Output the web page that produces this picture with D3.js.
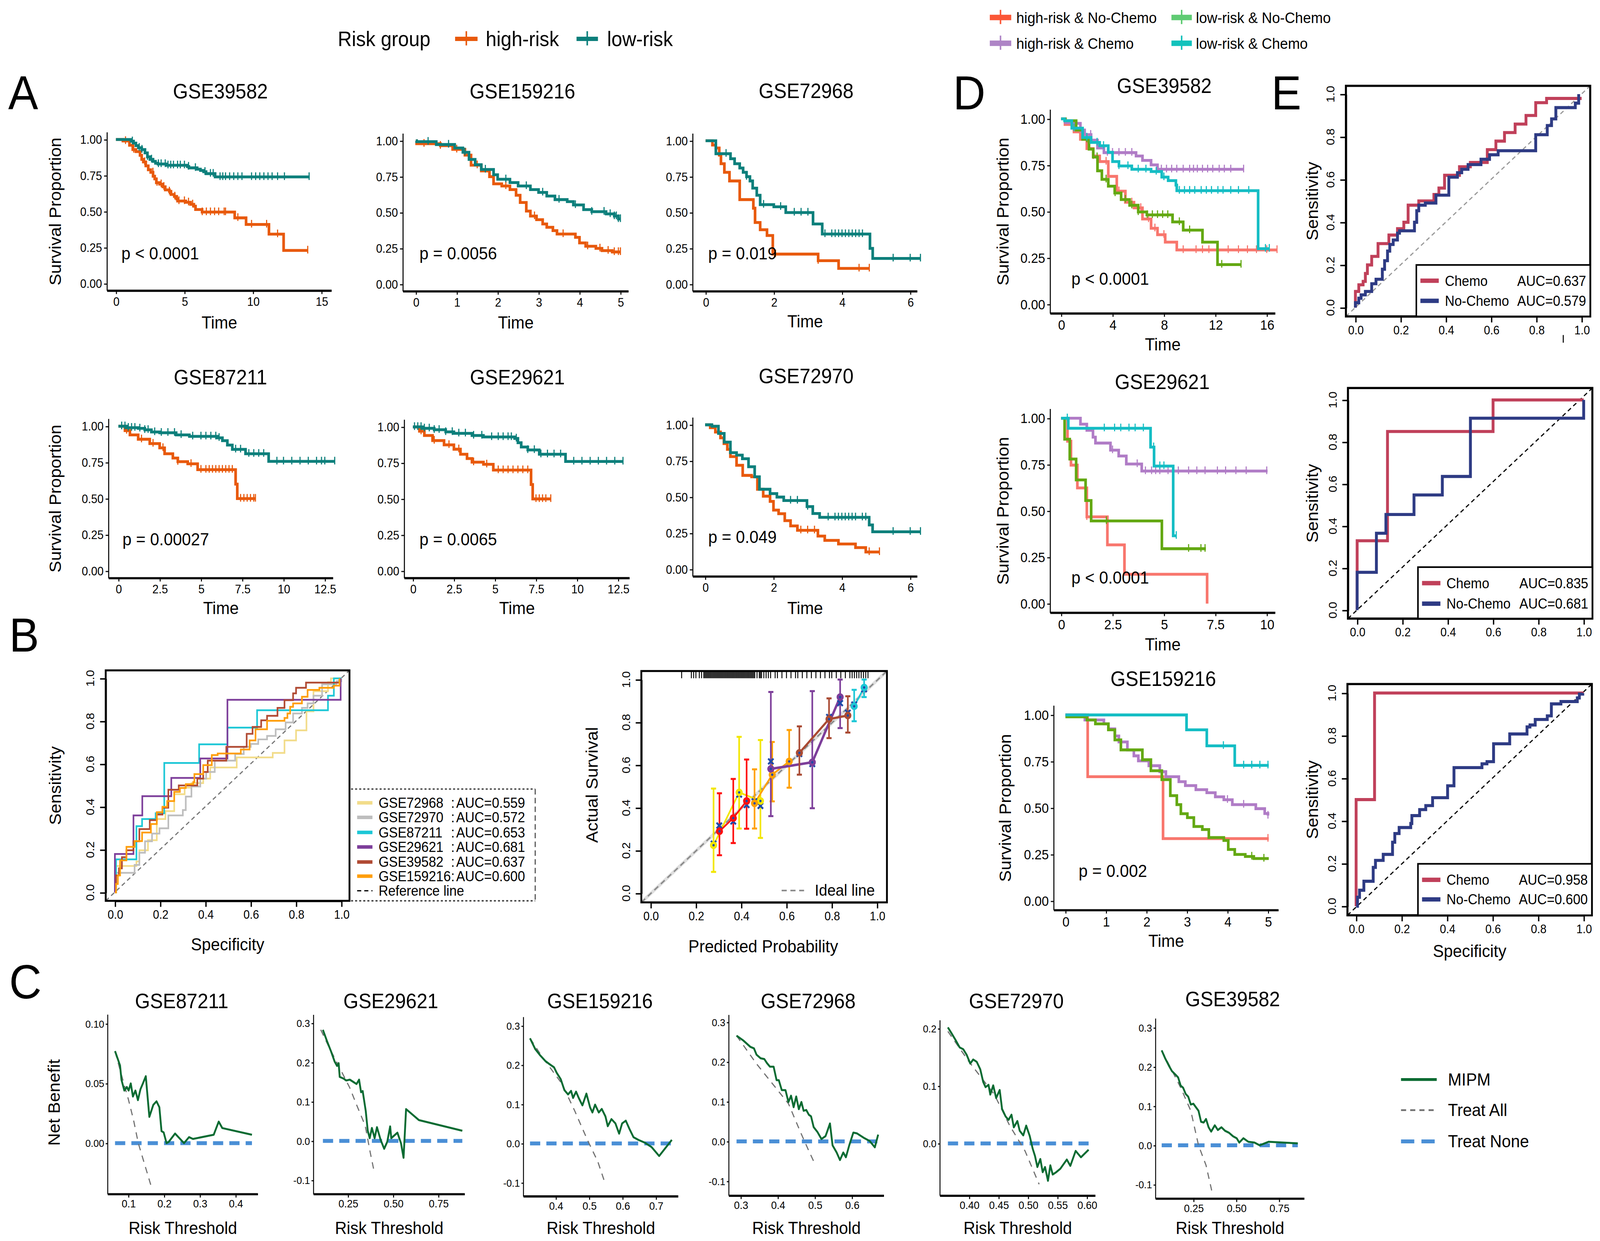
<!DOCTYPE html>
<html>
<head>
<meta charset="utf-8">
<title>Risk model validation</title>
<script src="https://cdn.jsdelivr.net/npm/d3@7/dist/d3.min.js"></script>
<style>
html, body { margin: 0; padding: 0; background: #ffffff; overflow: hidden; width: 100%; height: 100%; }
svg { display: block; width: 100vw; height: 100vh; }
text { font-family: "Liberation Sans", Arial, Helvetica, sans-serif; fill: #000; }
</style>
</head>
<body>
<script>

// ---------------- data: panel A (KM, [time, survival]) ----------------
var kmTicksY = [0, 0.25, 0.5, 0.75, 1];

var a1High = [[0,1],[0.51,0.99],[0.99,0.96],[1.23,0.93],[1.46,0.916],[1.76,0.89],[1.88,0.862],[2.0,0.844],[2.18,0.817],[2.36,0.79],[2.54,0.772],[2.71,0.745],[2.83,0.727],[2.95,0.70],[3.19,0.69],[3.43,0.672],[3.6,0.65],[3.9,0.64],[4.02,0.618],[4.26,0.605],[4.44,0.587],[4.5,0.573],[5.1,0.564],[5.45,0.55],[5.69,0.537],[5.81,0.514],[6.29,0.496],[8.67,0.456],[9.5,0.41],[11.17,0.343],[12.24,0.23],[14.0,0.23]];
var a1HighCens = [0.7,1.3,2.1,2.7,3.0,3.3,3.5,3.9,4.3,4.6,5.0,5.3,5.6,6.3,6.6,6.9,7.2,7.5,7.9,8.0,8.9,9.9,11.0,11.8,14.0];
var a1Low = [[0,1],[1.1,0.988],[1.29,0.975],[1.46,0.957],[1.64,0.943],[1.88,0.93],[2.12,0.907],[2.3,0.88],[2.48,0.862],[2.71,0.848],[2.89,0.835],[3.07,0.83],[3.67,0.821],[5.21,0.812],[5.33,0.803],[5.93,0.794],[6.17,0.785],[6.4,0.776],[6.58,0.763],[7.24,0.74],[14.14,0.74]];
var a1LowCens = [1.2,1.7,1.9,2.3,2.6,3.1,3.3,3.6,3.8,4.0,4.2,4.5,4.7,5.0,5.3,5.8,6.5,6.9,7.1,7.6,7.8,8.0,8.3,8.6,8.9,9.2,9.9,10.2,10.5,10.8,11.1,11.4,11.8,12.3,14.1];

var a2High = [[0,1],[0.02,0.98],[0.6,0.966],[0.9,0.94],[1.2,0.90],[1.35,0.83],[1.6,0.79],[1.8,0.75],[1.9,0.70],[2.1,0.685],[2.3,0.66],[2.45,0.62],[2.55,0.57],[2.7,0.51],[2.8,0.475],[2.95,0.45],[3.1,0.42],[3.2,0.397],[3.35,0.374],[3.45,0.35],[3.9,0.327],[4.0,0.288],[4.15,0.265],[4.4,0.25],[4.55,0.234],[4.8,0.225],[5.0,0.225]];
var a2HighCens = [0.2,0.6,1.0,1.5,2.2,2.9,3.6,4.2,4.5,4.7,4.85,4.95,5.0];
var a2Low = [[0,1],[0.02,0.994],[0.5,0.974],[0.95,0.95],[1.15,0.92],[1.3,0.87],[1.45,0.833],[1.6,0.80],[1.9,0.763],[2.0,0.732],[2.3,0.709],[2.5,0.685],[2.8,0.66],[3.0,0.64],[3.2,0.615],[3.4,0.59],[3.7,0.576],[3.85,0.553],[4.1,0.52],[4.3,0.506],[4.65,0.49],[4.85,0.475],[4.95,0.455],[5.0,0.455]];
var a2LowCens = [0.3,0.8,1.2,1.7,2.2,2.7,3.1,3.5,3.9,4.3,4.6,4.75,4.85,4.9,4.95,5.0];

var a3High = [[0,1],[0.2,0.97],[0.3,0.95],[0.4,0.90],[0.45,0.84],[0.55,0.78],[0.7,0.72],[1.0,0.59],[1.4,0.53],[1.45,0.43],[1.6,0.38],[1.8,0.34],[1.97,0.21],[3.3,0.164],[3.9,0.11],[4.8,0.11]];
var a3HighCens = [2.05,3.3,4.5,4.8];
var a3Low = [[0,1],[0.3,0.91],[0.73,0.875],[0.85,0.84],[1.0,0.81],[1.1,0.78],[1.2,0.75],[1.3,0.72],[1.38,0.67],[1.5,0.62],[1.6,0.555],[2.0,0.54],[2.35,0.50],[3.15,0.42],[3.42,0.35],[4.82,0.25],[4.9,0.18],[6.3,0.18]];
var a3LowCens = [0.6,1.2,1.7,2.2,2.6,2.8,3.0,3.5,3.7,3.8,3.9,4.0,4.1,4.2,4.3,4.4,4.5,4.6,5.5,6.0,6.3];

var a4High = [[0,1],[0.4,0.97],[0.7,0.94],[1.2,0.91],[1.9,0.88],[2.5,0.85],[2.8,0.81],[3.3,0.78],[3.6,0.755],[4.2,0.74],[4.8,0.70],[7.1,0.60],[7.2,0.50],[8.3,0.50]];
var a4HighCens = [0.5,1.4,2.1,2.7,3.6,4.4,5.0,5.3,5.5,5.7,5.9,6.1,6.3,6.5,6.7,6.9,7.4,7.6,7.8,8.0,8.2,8.3];
var a4Low = [[0,1],[0.5,0.99],[1.2,0.985],[1.6,0.975],[2.0,0.96],[2.5,0.955],[3.5,0.94],[4.3,0.93],[6.0,0.92],[6.3,0.90],[6.6,0.87],[6.9,0.84],[7.7,0.81],[9.1,0.757],[13.1,0.757]];
var a4LowCens = [0.2,0.4,0.6,0.8,1.0,1.3,1.6,1.8,2.2,2.6,3.0,3.4,3.8,4.5,5.0,5.3,5.6,5.9,6.1,7.1,7.4,7.9,8.2,8.5,8.8,9.6,10,10.5,11,11.5,12,12.3,12.5,13.1];

var a5High = [[0,1],[0.4,0.97],[0.7,0.94],[1.2,0.905],[1.9,0.875],[2.5,0.845],[2.9,0.81],[3.3,0.78],[3.6,0.755],[4.3,0.74],[4.9,0.70],[7.2,0.60],[7.3,0.50],[8.4,0.50]];
var a5HighCens = [0.5,1.3,2.2,2.8,3.7,4.5,5.2,5.5,5.8,6.1,6.4,6.7,7.0,7.5,7.7,7.9,8.1,8.4];
var a5Low = [[0,1],[0.6,0.99],[1.3,0.98],[2.0,0.965],[2.5,0.955],[3.6,0.94],[4.3,0.93],[6.2,0.92],[6.4,0.89],[6.6,0.86],[7.0,0.84],[7.7,0.81],[9.3,0.76],[12.8,0.76]];
var a5LowCens = [0.1,0.3,0.5,0.7,1.0,1.3,1.6,2.0,2.4,2.8,3.2,3.7,4.2,4.8,5.2,5.5,5.8,6.0,6.3,7.0,7.4,7.8,8.2,8.6,9.0,9.8,10.3,10.8,11.3,11.8,12.3,12.8];

var a6High = [[0,1],[0.15,0.98],[0.3,0.95],[0.45,0.91],[0.55,0.87],[0.65,0.83],[0.74,0.78],[0.92,0.72],[1.1,0.65],[1.36,0.64],[1.53,0.554],[1.7,0.506],[1.9,0.47],[2.0,0.41],[2.15,0.385],[2.33,0.337],[2.5,0.30],[2.7,0.27],[3.3,0.23],[3.5,0.20],[3.9,0.175],[4.4,0.15],[4.7,0.12],[5.1,0.12]];
var a6HighCens = [2.8,3.0,3.2,4.8,5.1];
var a6Low = [[0,1],[0.2,0.99],[0.39,0.94],[0.56,0.88],[0.74,0.807],[0.92,0.79],[1.09,0.765],[1.27,0.71],[1.45,0.64],[1.59,0.554],[1.9,0.524],[2.1,0.50],[2.3,0.476],[2.98,0.434],[3.15,0.386],[3.35,0.36],[4.8,0.307],[4.9,0.26],[6.3,0.26]];
var a6LowCens = [2.5,2.7,3.0,3.6,3.8,3.9,4.0,4.1,4.2,4.3,4.4,4.6,4.7,5.5,6.0,6.3];

// ---------------- data: panel D (KM by risk x chemo) ----------------
var d1HighNo = [[0,1],[0.3,0.97],[1.0,0.93],[1.5,0.89],[2.0,0.84],[2.5,0.80],[3.0,0.77],[3.67,0.69],[4.33,0.61],[5.0,0.55],[5.67,0.52],[6.33,0.46],[7.0,0.41],[7.5,0.375],[8.1,0.335],[9.0,0.293],[16.8,0.293]];
var d1HighNoCens = [2.5,3.5,4.5,5.5,6.2,6.8,7.3,8.0,9.5,10.5,11.0,11.5,12.2,13.0,13.8,14.5,15.2,16.0,16.8];
var d1HighChemo = [[0,1],[0.33,0.98],[1.17,0.976],[1.5,0.94],[1.83,0.915],[2.33,0.885],[2.83,0.843],[3.33,0.818],[5.83,0.80],[6.33,0.776],[7.0,0.752],[7.5,0.728],[14.2,0.728]];
var d1HighChemoCens = [1.5,2.3,3.6,4.0,4.5,5.0,5.5,7.8,8.2,8.6,9.0,9.5,10.0,10.3,10.6,11.0,11.4,11.8,12.3,12.7,13.2,14.2];
var d1LowNo = [[0,1],[0.33,0.99],[1.17,0.94],[1.67,0.89],[2.17,0.837],[2.5,0.794],[2.83,0.72],[3.17,0.674],[3.67,0.637],[4.17,0.60],[4.67,0.565],[5.33,0.534],[6.0,0.498],[6.67,0.482],[8.67,0.444],[9.5,0.40],[11.0,0.335],[12.17,0.214],[14.0,0.214]];
var d1LowNoCens = [2.0,2.8,3.5,4.2,5.0,5.5,6.0,6.7,7.1,7.5,7.9,8.3,9.2,10.0,12.5,14.0];
var d1LowChemo = [[0,1],[0.27,0.99],[0.83,0.95],[1.67,0.90],[2.33,0.873],[3.0,0.855],[3.67,0.82],[4.0,0.77],[4.5,0.746],[5.5,0.728],[7.0,0.716],[7.83,0.686],[8.33,0.667],[8.93,0.643],[9.0,0.613],[15.33,0.30],[16.2,0.30]];
var d1LowChemoCens = [1.0,2.0,2.8,3.3,4.5,5.2,6.0,6.6,7.4,8.0,9.2,9.6,10.0,10.4,10.9,11.3,11.7,12.2,12.6,13.2,13.8,14.6,15.9,16.2];

var d2HighNo = [[0,1],[0.31,0.876],[0.48,0.747],[0.79,0.624],[1.25,0.468],[2.25,0.317],[3.08,0.158],[7.1,0]];
var d2HighNoCens = [1.25];
var d2HighChemo = [[0,1],[0.94,0.968],[1.25,0.935],[1.55,0.898],[1.67,0.866],[2.4,0.828],[2.8,0.796],[3.17,0.753],[3.92,0.715],[10.04,0.715]];
var d2HighChemoCens = [2.5,3.7,4.1,4.4,4.6,4.8,5.2,5.7,6.2,6.6,7.0,7.6,8.0,8.5,9.0,10.0];
var d2LowNo = [[0,1],[0.17,0.887],[0.42,0.78],[0.73,0.667],[1.19,0.556],[1.46,0.446],[4.9,0.296],[7.04,0.296]];
var d2LowNoCens = [2.2,6.2,6.8,7.0];
var d2LowChemo = [[0,1],[0.35,0.946],[4.35,0.844],[4.52,0.742],[5.45,0.366],[5.6,0.366]];
var d2LowChemoCens = [0.3,2.1,2.6,2.9,3.3,3.6,4.0,4.5,4.8,5.0,5.6];

var d3HighNo = [[0,1],[0.55,0.668],[2.41,0.335],[5.02,0.335]];
var d3HighNoCens = [5.0];
var d3HighChemo = [[0,1],[0.48,0.973],[0.95,0.952],[1.06,0.925],[1.22,0.887],[1.32,0.855],[1.53,0.812],[1.69,0.78],[1.8,0.753],[2.06,0.727],[2.33,0.695],[2.48,0.668],[2.8,0.641],[2.96,0.62],[3.22,0.598],[3.49,0.582],[3.7,0.56],[3.91,0.544],[4.12,0.518],[4.7,0.496],[4.92,0.47],[5.0,0.459]];
var d3HighChemoCens = [4.0,4.4,5.0];
var d3LowNo = [[0,0.99],[0.53,0.973],[0.74,0.952],[1.06,0.92],[1.22,0.866],[1.37,0.812],[1.9,0.759],[2.11,0.70],[2.38,0.652],[2.59,0.566],[2.75,0.518],[2.85,0.469],[3.01,0.448],[3.17,0.40],[3.38,0.384],[3.54,0.341],[3.91,0.325],[4.02,0.277],[4.18,0.25],[4.44,0.239],[4.65,0.228],[5.02,0.228]];
var d3LowNoCens = [4.6,4.9];
var d3LowChemo = [[0,1],[2.99,0.92],[3.49,0.834],[4.18,0.729],[5.02,0.729]];
var d3LowChemoCens = [3.9,4.4,4.6,4.8,5.0];

// ---------------- data: panel B (ROC [1-spec, sens]) ----------------
var rocTicks = [0, 0.2, 0.4, 0.6, 0.8, 1];
var b1Names = ["GSE72968", "GSE72970", "GSE87211", "GSE29621", "GSE39582", "GSE159216"];
var b1Auc = ["AUC=0.559", "AUC=0.572", "AUC=0.653", "AUC=0.681", "AUC=0.637", "AUC=0.600"];
var b1Yellow = [[0,0],[0.005,0.124],[0.095,0.145],[0.108,0.197],[0.146,0.244],[0.185,0.343],[0.223,0.38],[0.262,0.459],[0.308,0.49],[0.338,0.511],[0.39,0.532],[0.421,0.584],[0.538,0.631],[0.697,0.652],[0.749,0.71],[0.80,0.757],[0.846,0.846],[0.877,0.94],[0.941,0.982],[0.954,1.0],[1,1]];
var b1Gray = [[0,0],[0.005,0.092],[0.087,0.129],[0.108,0.186],[0.133,0.239],[0.164,0.275],[0.197,0.30],[0.236,0.36],[0.30,0.385],[0.313,0.448],[0.338,0.495],[0.377,0.532],[0.403,0.563],[0.441,0.616],[0.531,0.647],[0.569,0.68],[0.60,0.694],[0.633,0.715],[0.672,0.731],[0.71,0.762],[0.754,0.794],[0.787,0.836],[0.826,0.862],[0.851,0.883],[0.877,0.919],[0.915,0.972],[0.979,0.987],[1.0,1.0]];
var b1Cyan = [[0,0],[0.005,0.155],[0.095,0.31],[0.12,0.343],[0.18,0.37],[0.218,0.605],[0.372,0.692],[0.497,0.77],[0.628,0.851],[0.941,0.919],[0.967,1.0],[1,1]];
var b1Purple = [[0,0],[0,0.18],[0.082,0.36],[0.121,0.45],[0.249,0.535],[0.377,0.626],[0.497,0.90],[0.997,1.0]];
var b1Brown = [[0,0],[0.005,0.08],[0.018,0.113],[0.031,0.165],[0.051,0.197],[0.082,0.239],[0.108,0.296],[0.154,0.338],[0.185,0.364],[0.21,0.396],[0.236,0.48],[0.282,0.50],[0.364,0.532],[0.39,0.563],[0.41,0.616],[0.492,0.68],[0.582,0.741],[0.608,0.773],[0.646,0.804],[0.672,0.825],[0.718,0.862],[0.749,0.898],[0.787,0.93],[0.80,0.956],[0.844,0.98],[0.992,1.0]];
var b1Orange = [[0,0],[0.005,0.04],[0.013,0.08],[0.023,0.15],[0.051,0.213],[0.087,0.24],[0.12,0.28],[0.159,0.32],[0.185,0.375],[0.21,0.40],[0.231,0.427],[0.262,0.47],[0.287,0.488],[0.313,0.506],[0.346,0.516],[0.351,0.553],[0.39,0.595],[0.428,0.642],[0.454,0.649],[0.556,0.668],[0.595,0.71],[0.621,0.762],[0.672,0.802],[0.749,0.815],[0.762,0.836],[0.774,0.867],[0.787,0.883],[0.826,0.914],[0.851,0.946],[0.903,0.956],[0.967,0.966],[0.992,1.0]];

// calibration: [predicted, observed, lower, upper]
var calYellow = [[0.278,0.225,0.10,0.49],[0.391,0.472,0.303,0.732],[0.485,0.432,0.259,0.717]];
var calRed = [[0.304,0.29,0.178,0.468],[0.365,0.352,0.235,0.535],[0.424,0.432,0.302,0.626]];
var calOrange = [[0.459,0.421,0.303,0.58],[0.537,0.555,0.43,0.708],[0.612,0.617,0.494,0.764]];
var calPurple = [[0.531,0.582,0.361,0.942],[0.714,0.613,0.398,0.946],[0.837,0.918,0.773,1.0]];
var calBrown = [[0.657,0.657,0.555,0.781],[0.788,0.815,0.726,0.912],[0.871,0.832,0.752,0.922]];
var calCyan = [[0.899,0.875,0.805,0.952],[0.943,0.963,0.918,1.0]];
var calKM = [[0.303,0.317],[0.365,0.336],[0.424,0.413],[0.485,0.409],[0.531,0.617],[0.714,0.605],[0.837,0.89],[0.278,0.232],[0.391,0.462],[0.459,0.43],[0.657,0.652],[0.788,0.825],[0.871,0.845],[0.899,0.883],[0.943,0.955]];
var calRug = [0.137,0.18,0.19,0.20,0.215,0.225,0.235,0.24,0.245,0.25,0.255,0.26,0.265,0.27,0.275,0.28,0.285,0.29,0.295,0.30,0.305,0.31,0.315,0.32,0.325,0.33,0.335,0.34,0.345,0.35,0.355,0.36,0.365,0.37,0.375,0.38,0.385,0.39,0.395,0.40,0.405,0.41,0.415,0.42,0.425,0.43,0.435,0.44,0.445,0.45,0.455,0.46,0.47,0.48,0.485,0.49,0.50,0.51,0.52,0.53,0.55,0.56,0.58,0.60,0.62,0.64,0.65,0.67,0.69,0.71,0.73,0.75,0.77,0.79,0.80,0.82,0.84,0.86,0.88,0.89,0.90,0.91,0.92,0.93,0.94,0.95,0.96];

// ---------------- data: panel E (ROC chemo vs no-chemo) ----------------
var e1Chemo = [[0,0],[0,0.076],[0.015,0.107],[0.034,0.123],[0.044,0.16],[0.053,0.20],[0.072,0.24],[0.10,0.30],[0.148,0.34],[0.186,0.37],[0.214,0.40],[0.233,0.48],[0.28,0.50],[0.347,0.53],[0.369,0.56],[0.394,0.62],[0.46,0.66],[0.508,0.68],[0.583,0.74],[0.621,0.78],[0.659,0.82],[0.706,0.86],[0.754,0.90],[0.797,0.96],[0.845,0.98],[1.0,0.98]];
var e1NoChemo = [[0,0],[0,0.023],[0.015,0.044],[0.025,0.06],[0.044,0.076],[0.072,0.112],[0.091,0.133],[0.119,0.18],[0.129,0.22],[0.142,0.265],[0.152,0.296],[0.167,0.317],[0.186,0.349],[0.195,0.36],[0.261,0.40],[0.271,0.454],[0.28,0.48],[0.309,0.49],[0.356,0.527],[0.413,0.611],[0.451,0.632],[0.47,0.648],[0.498,0.67],[0.555,0.695],[0.593,0.716],[0.631,0.735],[0.797,0.81],[0.848,0.853],[0.867,0.884],[0.886,0.937],[0.972,0.958],[0.987,1.0]];
var e2Chemo = [[0,0],[0,0.33],[0.134,0.85],[0.60,1.0],[1.0,1.0]];
var e2NoChemo = [[0,0],[0,0.18],[0.085,0.366],[0.127,0.455],[0.251,0.548],[0.376,0.636],[0.50,0.913],[1.0,1.0]];
var e3Chemo = [[0,0],[0,0.5],[0.081,1.0],[1.0,1.0]];
var e3NoChemo = [[0,0],[0.006,0.042],[0.015,0.075],[0.034,0.117],[0.075,0.182],[0.085,0.215],[0.119,0.243],[0.16,0.30],[0.17,0.341],[0.189,0.369],[0.24,0.388],[0.245,0.425],[0.279,0.453],[0.306,0.472],[0.336,0.509],[0.402,0.565],[0.43,0.65],[0.553,0.668],[0.575,0.678],[0.604,0.762],[0.675,0.808],[0.751,0.841],[0.764,0.85],[0.787,0.876],[0.84,0.893],[0.858,0.949],[0.90,0.96],[0.972,0.977],[0.981,0.995],[0.996,1.0]];
var eAuc = [["AUC=0.637","AUC=0.579"],["AUC=0.835","AUC=0.681"],["AUC=0.958","AUC=0.600"]];

// ---------------- data: panel C (decision curves [threshold, net benefit]) ----------------
var c1Model = [[0.063,0.077],[0.077,0.065],[0.081,0.053],[0.089,0.044],[0.096,0.047],[0.101,0.044],[0.107,0.050],[0.113,0.039],[0.12,0.044],[0.127,0.036],[0.134,0.045],[0.141,0.050],[0.149,0.056],[0.159,0.022],[0.17,0.032],[0.179,0.035],[0.187,0.030],[0.193,0.010],[0.199,0.009],[0.207,0],[0.213,0.001],[0.231,0.008],[0.256,0],[0.27,0.005],[0.281,0.0035],[0.339,0.007],[0.353,0.018],[0.363,0.0126],[0.446,0.007]];
var c1All = [[0.063,0.077],[0.08,0.058],[0.10,0.037],[0.115,0.019],[0.128,0],[0.148,-0.02],[0.163,-0.035]];
var c1None = [[0.063,0],[0.446,0]];
var c2Model = [[0.112,0.283],[0.134,0.255],[0.157,0.228],[0.177,0.202],[0.19,0.191],[0.199,0.198],[0.205,0.163],[0.225,0.159],[0.241,0.154],[0.261,0.156],[0.281,0.15],[0.298,0.145],[0.312,0.156],[0.323,0.124],[0.332,0.127],[0.349,0.076],[0.36,0.026],[0.371,0.007],[0.383,0.033],[0.398,0.007],[0.411,0.035],[0.431,0.003],[0.451,-0.02],[0.468,-0.002],[0.484,0.037],[0.49,0.007],[0.524,0.021],[0.544,-0.006],[0.558,-0.043],[0.572,0.081],[0.643,0.053],[0.883,0.026]];
var c2All = [[0.10,0.283],[0.15,0.235],[0.2,0.19],[0.26,0.136],[0.30,0.09],[0.346,0.039],[0.374,-0.03],[0.394,-0.075]];
var c2None = [[0.112,0],[0.883,0]];
var c3Model = [[0.323,0.268],[0.339,0.24],[0.354,0.224],[0.369,0.21],[0.38,0.203],[0.395,0.194],[0.403,0.18],[0.415,0.164],[0.426,0.136],[0.437,0.125],[0.446,0.134],[0.452,0.116],[0.461,0.132],[0.469,0.116],[0.48,0.097],[0.492,0.127],[0.503,0.092],[0.51,0.079],[0.518,0.099],[0.529,0.079],[0.538,0.088],[0.549,0.069],[0.556,0.044],[0.567,0.062],[0.579,0.051],[0.59,0.025],[0.599,0.051],[0.61,0.058],[0.621,0.037],[0.633,0.016],[0.648,0.009],[0.667,0.002],[0.687,-0.009],[0.71,-0.032],[0.748,0.009]];
var c3All = [[0.323,0.268],[0.36,0.22],[0.418,0.153],[0.457,0.083],[0.495,0.009],[0.526,-0.046],[0.549,-0.104]];
var c3None = [[0.323,0],[0.748,0]];
var c4Model = [[0.289,0.266],[0.307,0.254],[0.326,0.238],[0.336,0.234],[0.343,0.218],[0.354,0.209],[0.364,0.207],[0.371,0.197],[0.379,0.188],[0.389,0.188],[0.397,0.154],[0.403,0.154],[0.411,0.129],[0.421,0.129],[0.429,0.099],[0.436,0.115],[0.443,0.086],[0.45,0.113],[0.457,0.081],[0.464,0.099],[0.47,0.077],[0.477,0.079],[0.484,0.067],[0.49,0.063],[0.497,0.036],[0.507,0.024],[0.518,0.006],[0.529,0.013],[0.534,0.026],[0.541,0.045],[0.548,-0.01],[0.559,-0.028],[0.568,-0.047],[0.577,-0.028],[0.584,-0.04],[0.593,-0.01],[0.604,0.022],[0.614,0.02],[0.634,0.008],[0.648,0.001],[0.662,-0.015],[0.671,0.017]];
var c4All = [[0.289,0.266],[0.343,0.195],[0.386,0.145],[0.429,0.095],[0.463,0.02],[0.484,-0.024],[0.501,-0.058]];
var c4None = [[0.289,0],[0.671,0]];
var c5Model = [[0.364,0.202],[0.37,0.192],[0.377,0.18],[0.384,0.167],[0.39,0.164],[0.396,0.154],[0.402,0.139],[0.407,0.146],[0.413,0.142],[0.419,0.129],[0.424,0.107],[0.428,0.098],[0.433,0.102],[0.436,0.085],[0.441,0.101],[0.446,0.079],[0.452,0.093],[0.456,0.06],[0.462,0.047],[0.467,0.041],[0.472,0.05],[0.476,0.028],[0.482,0.039],[0.486,0.022],[0.492,0.014],[0.497,0.031],[0.503,0.013],[0.508,-0.009],[0.512,-0.022],[0.516,-0.041],[0.521,-0.027],[0.525,-0.05],[0.529,-0.041],[0.534,-0.065],[0.538,-0.038],[0.542,-0.054],[0.548,-0.05],[0.555,-0.044],[0.566,-0.028],[0.572,-0.039],[0.581,-0.013],[0.59,-0.024],[0.603,-0.011]];
var c5All = [[0.364,0.195],[0.40,0.142],[0.443,0.085],[0.469,0.031],[0.495,-0.013],[0.519,-0.071]];
var c5None = [[0.364,0],[0.603,0]];
var c6Model = [[0.065,0.242],[0.086,0.221],[0.107,0.203],[0.125,0.189],[0.146,0.18],[0.161,0.173],[0.176,0.152],[0.19,0.147],[0.205,0.131],[0.22,0.124],[0.235,0.104],[0.25,0.106],[0.265,0.097],[0.28,0.088],[0.295,0.06],[0.31,0.058],[0.324,0.067],[0.339,0.046],[0.354,0.035],[0.375,0.051],[0.393,0.039],[0.414,0.046],[0.435,0.037],[0.458,0.032],[0.482,0.023],[0.503,0.018],[0.518,0.007],[0.542,0.018],[0.571,0.009],[0.607,0.007],[0.637,0],[0.69,0.009],[0.86,0.005]];
var c6All = [[0.065,0.242],[0.12,0.195],[0.176,0.147],[0.235,0.088],[0.28,0],[0.324,-0.051],[0.357,-0.115]];
var c6None = [[0.065,0],[0.86,0]];

// ---------------- colours ----------------
var colHigh = "#E8590C", colLow = "#0C7F7B";
var colHighNo = "#F8766D", colHighChemo = "#B07CC6", colLowNo = "#63A812", colLowChemo = "#14BDC4";
var colChemo = "#C0405A", colNoChemo = "#2E3B84";
var colMipm = "#0A6B32", colAll = "#707070", colNone = "#4A8FD6";

var svg = d3.select("body").append("svg")
    .attr("viewBox", "0 0 1568 1133.5")
    .attr("preserveAspectRatio", "none");
svg.append("rect").attr("width", 1568).attr("height", 1133.5).attr("fill", "#fff");

function addText(g, x, y, s, size, anchor, rot) {
    var t = g.append("text")
        .attr("x", x).attr("y", y)
        .attr("font-size", size)
        .attr("text-anchor", anchor || "start")
        .text(s);
    if (rot) {
        t.attr("transform", "rotate(" + rot + "," + x + "," + y + ")").attr("dy", "0.35em");
    }
    return t;
}

function styleAxis(sel, fs) {
    sel.attr("font-size", fs);
    sel.selectAll("text").attr("font-size", fs).attr("fill", "#000");
    sel.selectAll("line").attr("stroke", "#000");
    sel.selectAll(".domain").attr("stroke", "#000");
}

function stepAt(data, t) {
    var v = data[0][1];
    for (var i = 0; i < data.length; i++) {
        if (data[i][0] <= t) v = data[i][1];
    }
    return v;
}

function minusFmt(f) {
    var fm = d3.format(f);
    return function(v) { return fm(v).replace("\u2212", "-"); };
}

// ---------- survival panel ----------
function kmPanel(p) {
    var g = svg.append("g");
    var x = d3.scaleLinear().domain([0, p.tmax]).range([p.x0, p.x1]);
    var y = d3.scaleLinear().domain([0, 1]).range([p.y0, p.y1]);
    var yb = y(-0.05), yt = y(1.05);

    var ya = g.append("g").attr("transform", "translate(" + p.ox + ",0)")
        .call(d3.axisLeft(y).tickValues(kmTicksY).tickFormat(d3.format(".2f")).tickSize(3).tickPadding(2));
    ya.select(".domain").remove();
    styleAxis(ya, p.fs);
    g.append("line").attr("x1", p.ox).attr("x2", p.ox).attr("y1", yt).attr("y2", yb)
        .attr("stroke", "#000").attr("stroke-width", 1);

    var xa = g.append("g").attr("transform", "translate(0," + yb + ")")
        .call(d3.axisBottom(x).tickValues(p.xticks).tickFormat(d3.format("~g")).tickSize(3).tickPadding(3));
    xa.select(".domain").remove();
    styleAxis(xa, p.fs);
    g.append("line").attr("x1", p.ox).attr("x2", p.xend).attr("y1", yb).attr("y2", yb)
        .attr("stroke", "#000").attr("stroke-width", 2);

    var line = d3.line().x(function(d) { return x(d[0]); }).y(function(d) { return y(d[1]); })
        .curve(d3.curveStepAfter);

    p.series.forEach(function(s) {
        g.append("path").datum(s.data).attr("d", line)
            .attr("fill", "none").attr("stroke", s.color).attr("stroke-width", p.lw);
        g.selectAll(null).data(s.cens).enter().append("line")
            .attr("x1", function(d) { return x(d); })
            .attr("x2", function(d) { return x(d); })
            .attr("y1", function(d) { return y(stepAt(s.data, d)) - 4.2; })
            .attr("y2", function(d) { return y(stepAt(s.data, d)) + 2.8; })
            .attr("stroke", s.color).attr("stroke-width", 1.1);
    });

    addText(g, p.titleX, p.titleY, p.title, 19, "middle");
    addText(g, (p.ox + p.xend) / 2, p.timeY, "Time", 16, "middle");
    addText(g, p.pX, p.pY, p.pText, 16, "start");
    if (p.ylabX) addText(g, p.ylabX, (yt + yb) / 2, "Survival Proportion", 16, "middle", -90);
}

// ---------- base-style ROC panel ----------
function boxAxes(g, p, x, y) {
    var xa = g.append("g").attr("transform", "translate(0," + p.b + ")")
        .call(d3.axisBottom(x).tickValues(rocTicks).tickFormat(d3.format(".1f")).tickSize(5.5).tickSizeOuter(0).tickPadding(3));
    styleAxis(xa, 11);
    xa.selectAll("line, .domain").attr("stroke-width", 1.3);
    var ya = g.append("g").attr("transform", "translate(" + p.l + ",0)")
        .call(d3.axisLeft(y).tickValues(rocTicks).tickFormat("").tickSize(5.5).tickSizeOuter(0));
    styleAxis(ya, 11);
    ya.selectAll("line, .domain").attr("stroke-width", 1.3);
    rocTicks.forEach(function(v) {
        addText(g, p.l - 15, y(v), d3.format(".1f")(v), 11, "middle", -90);
    });
    g.append("rect").attr("x", p.l).attr("y", p.t).attr("width", p.r - p.l).attr("height", p.b - p.t)
        .attr("fill", "none").attr("stroke", "#000").attr("stroke-width", p.bw);
}

function rocPanel(p) {
    var g = svg.append("g");
    var x = d3.scaleLinear().domain([0, 1]).range([p.x0, p.x1]);
    var y = d3.scaleLinear().domain([0, 1]).range([p.y0, p.y1]);
    g.append("line").attr("x1", p.l).attr("y1", p.b).attr("x2", p.r).attr("y2", p.t)
        .attr("stroke", p.diagCol).attr("stroke-width", 1.1).attr("stroke-dasharray", "4,3");
    var line = d3.line().x(function(d) { return x(d[0]); }).y(function(d) { return y(d[1]); })
        .curve(d3.curveStepAfter);
    p.curves.forEach(function(c) {
        g.append("path").datum(c.data).attr("d", line)
            .attr("fill", "none").attr("stroke", c.color).attr("stroke-width", p.lw);
    });
    boxAxes(g, p, x, y);
    addText(g, p.ylabX, (p.t + p.b) / 2, "Sensitivity", 16, "middle", -90);
    if (p.xlab) addText(g, (p.l + p.r) / 2, p.xlabY, "Specificity", 16, "middle");
    if (p.leg) {
        var L = p.leg;
        g.append("rect").attr("x", L.l).attr("y", L.t).attr("width", L.r - L.l).attr("height", L.b - L.t)
            .attr("fill", "#fff").attr("stroke", "#000").attr("stroke-width", 1.5);
        var names = ["Chemo", "No-Chemo"], cols = [colChemo, colNoChemo];
        L.rows.forEach(function(ry, i) {
            g.append("line").attr("x1", L.l + 4).attr("x2", L.l + 22).attr("y1", ry).attr("y2", ry)
                .attr("stroke", cols[i]).attr("stroke-width", 4);
            addText(g, L.l + 28, ry + 4.6, names[i], 13, "start");
            addText(g, L.r - 4, ry + 4.6, L.auc[i], 13, "end");
        });
    }
    return g;
}

// ---------- decision curve panel ----------
function dcaPanel(p) {
    var g = svg.append("g");
    var x = d3.scaleLinear().domain(p.xd).range(p.xr);
    var y = d3.scaleLinear().domain(p.yd).range(p.yr);
    var ya = g.append("g").attr("transform", "translate(" + p.ox + ",0)")
        .call(d3.axisLeft(y).tickValues(p.yticks).tickFormat(minusFmt(p.yf)).tickSize(2).tickPadding(1.5));
    ya.select(".domain").remove();
    styleAxis(ya, 9.5);
    g.append("line").attr("x1", p.ox).attr("x2", p.ox).attr("y1", p.top).attr("y2", p.bot)
        .attr("stroke", "#000").attr("stroke-width", 0.9);
    var xa = g.append("g").attr("transform", "translate(0," + p.bot + ")")
        .call(d3.axisBottom(x).tickValues(p.xticks).tickFormat(d3.format(p.xf)).tickSize(3).tickPadding(2));
    xa.select(".domain").remove();
    styleAxis(xa, 10);
    g.append("line").attr("x1", p.ox).attr("x2", p.xend).attr("y1", p.bot).attr("y2", p.bot)
        .attr("stroke", "#000").attr("stroke-width", 2);

    var line = d3.line().x(function(d) { return x(d[0]); }).y(function(d) { return y(d[1]); });
    g.append("path").datum(p.none).attr("d", line).attr("fill", "none")
        .attr("stroke", colNone).attr("stroke-width", 3.6).attr("stroke-dasharray", "10,6");
    g.append("path").datum(p.all).attr("d", line).attr("fill", "none")
        .attr("stroke", colAll).attr("stroke-width", 1.1).attr("stroke-dasharray", "6,5");
    g.append("path").datum(p.model).attr("d", line).attr("fill", "none")
        .attr("stroke", colMipm).attr("stroke-width", 1.8).attr("stroke-linejoin", "round");

    addText(g, p.titleX, p.titleY, p.title, 19, "middle");
    addText(g, (p.ox + p.xend) / 2, 1127, "Risk Threshold", 16, "middle");
}

// ======================= top legends =======================
function legendKey(x1, x2, y, color, w) {
    svg.append("line").attr("x1", x1).attr("x2", x2).attr("y1", y).attr("y2", y)
        .attr("stroke", color).attr("stroke-width", w || 4);
    svg.append("line").attr("x1", (x1 + x2) / 2).attr("x2", (x1 + x2) / 2).attr("y1", y - 7).attr("y2", y + 6)
        .attr("stroke", color).attr("stroke-width", 1.5);
}
addText(svg, 331, 42, "Risk group", 19, "start");
legendKey(446, 468, 35.5, colHigh);
addText(svg, 476, 42, "high-risk", 19, "start");
legendKey(565, 586, 35.5, colLow);
addText(svg, 595, 42, "low-risk", 19, "start");

legendKey(970, 991, 16, "#FB5636", 5);
addText(svg, 996, 21, "high-risk & No-Chemo", 14, "start");
legendKey(1148, 1168, 16, "#5FCB73", 5);
addText(svg, 1172, 21, "low-risk & No-Chemo", 14, "start");
legendKey(970, 991, 39.5, "#AE84C6", 5);
addText(svg, 996, 44.5, "high-risk & Chemo", 14, "start");
legendKey(1148, 1168, 39.5, "#12C2BC", 5);
addText(svg, 1172, 44.5, "low-risk & Chemo", 14, "start");

// panel letters
[["A", 8, 100], ["B", 9, 595], ["C", 9, 912], ["D", 934, 100], ["E", 1246, 100]].forEach(function(l) {
    addText(svg, l[1], l[2], l[0], 44, "start");
});

// ======================= panel A =======================
var aTicks15 = [0, 5, 10, 15], aTicks5 = [0, 1, 2, 3, 4, 5], aTicks6 = [0, 2, 4, 6], aTicks125 = [0, 2.5, 5, 7.5, 10, 12.5];
var aPanels = [
    {title: "GSE39582", ox: 105, x0: 113.6, x1: 315, tmax: 15, xend: 325, y1: 127.4, y0: 259, xticks: aTicks15,
     titleX: 216, titleY: 90, timeY: 300, pX: 119, pY: 237, pText: "p < 0.0001", ylabX: 54,
     series: [{data: a1High, cens: a1HighCens, color: colHigh}, {data: a1Low, cens: a1LowCens, color: colLow}]},
    {title: "GSE159216", ox: 395, x0: 407.5, x1: 608, tmax: 5, xend: 616, y1: 128.6, y0: 259.6, xticks: aTicks5,
     titleX: 512, titleY: 90, timeY: 300, pX: 411, pY: 237, pText: "p = 0.0056",
     series: [{data: a2High, cens: a2HighCens, color: colHigh}, {data: a2Low, cens: a2LowCens, color: colLow}]},
    {title: "GSE72968", ox: 679, x0: 691.5, x1: 892, tmax: 6, xend: 899, y1: 128.6, y0: 259.6, xticks: aTicks6,
     titleX: 790, titleY: 89.5, timeY: 299, pX: 694, pY: 237, pText: "p = 0.019",
     series: [{data: a3High, cens: a3HighCens, color: colHigh}, {data: a3Low, cens: a3LowCens, color: colLow}]},
    {title: "GSE87211", ox: 106.5, x0: 116, x1: 318.3, tmax: 12.5, xend: 326.5, y1: 389.3, y0: 521.5, xticks: aTicks125,
     titleX: 216, titleY: 351, timeY: 561, pX: 120, pY: 498, pText: "p = 0.00027", ylabX: 54,
     series: [{data: a4High, cens: a4HighCens, color: colHigh}, {data: a4Low, cens: a4LowCens, color: colLow}]},
    {title: "GSE29621", ox: 396.3, x0: 404.6, x1: 605.7, tmax: 12.5, xend: 617, y1: 389.9, y0: 521.5, xticks: aTicks125,
     titleX: 507, titleY: 351, timeY: 561, pX: 411, pY: 498, pText: "p = 0.0065",
     series: [{data: a5High, cens: a5HighCens, color: colHigh}, {data: a5Low, cens: a5LowCens, color: colLow}]},
    {title: "GSE72970", ox: 679, x0: 691, x1: 892, tmax: 6, xend: 899, y1: 388, y0: 520, xticks: aTicks6,
     titleX: 790, titleY: 350, timeY: 561, pX: 694, pY: 496, pText: "p = 0.049",
     series: [{data: a6High, cens: a6HighCens, color: colHigh}, {data: a6Low, cens: a6LowCens, color: colLow}]}
];
aPanels.forEach(function(p) { p.fs = 11; p.lw = 2.6; kmPanel(p); });

// ======================= panel D =======================
var dPanels = [
    {title: "GSE39582", ox: 1029.3, x0: 1039.9, x1: 1241.4, tmax: 16, xend: 1249.8, y1: 108.6, y0: 277.9, xticks: [0, 4, 8, 12, 16],
     titleX: 1141, titleY: 85, timeY: 320, pX: 1050, pY: 260, pText: "p < 0.0001", ylabX: 983,
     series: [{data: d1HighNo, cens: d1HighNoCens, color: colHighNo}, {data: d1HighChemo, cens: d1HighChemoCens, color: colHighChemo},
              {data: d1LowNo, cens: d1LowNoCens, color: colLowNo}, {data: d1LowChemo, cens: d1LowChemoCens, color: colLowChemo}]},
    {title: "GSE29621", ox: 1029.3, x0: 1039.9, x1: 1241.4, tmax: 10, xend: 1249.8, y1: 382, y0: 551.3, xticks: [0, 2.5, 5, 7.5, 10],
     titleX: 1139, titleY: 355.5, timeY: 594, pX: 1050, pY: 533, pText: "p < 0.0001", ylabX: 983,
     series: [{data: d2HighNo, cens: d2HighNoCens, color: colHighNo}, {data: d2HighChemo, cens: d2HighChemoCens, color: colHighChemo},
              {data: d2LowNo, cens: d2LowNoCens, color: colLowNo}, {data: d2LowChemo, cens: d2LowChemoCens, color: colLowChemo}]},
    {title: "GSE159216", ox: 1032.8, x0: 1044.1, x1: 1242.6, tmax: 5, xend: 1253, y1: 653, y0: 822.9, xticks: [0, 1, 2, 3, 4, 5],
     titleX: 1140, titleY: 626.5, timeY: 865, pX: 1057, pY: 801, pText: "p = 0.002", ylabX: 985,
     series: [{data: d3HighNo, cens: d3HighNoCens, color: colHighNo}, {data: d3HighChemo, cens: d3HighChemoCens, color: colHighChemo},
              {data: d3LowNo, cens: d3LowNoCens, color: colLowNo}, {data: d3LowChemo, cens: d3LowChemoCens, color: colLowChemo}]}
];
dPanels.forEach(function(p) { p.fs = 12.5; p.lw = 2.6; kmPanel(p); });

// ======================= panel B: ROC =======================
var b1Cols = ["#F2DC8A", "#BEBEBE", "#1CC7D6", "#7D3E9A", "#B04A33", "#FF9E0A"];
var b1Data = [b1Yellow, b1Gray, b1Cyan, b1Purple, b1Brown, b1Orange];
var gB1 = rocPanel({l: 103.6, r: 342.5, t: 612.3, b: 822.8, x0: 112.6, x1: 334.5, y0: 815.2, y1: 619.6, bw: 1.8,
    diagCol: "#777", lw: 1.6, ylabX: 54, xlab: true, xlabY: 868,
    curves: b1Data.map(function(d, i) { return {data: d, color: b1Cols[i]}; })});

// legend of B1
var bl = {l: 344, r: 524.5, t: 720.7, b: 822.8};
gB1.append("line").attr("x1", bl.l).attr("x2", bl.r).attr("y1", bl.t).attr("y2", bl.t)
    .attr("stroke", "#444").attr("stroke-width", 1.3).attr("stroke-dasharray", "2,2");
gB1.append("line").attr("x1", bl.l).attr("x2", bl.r).attr("y1", bl.b).attr("y2", bl.b)
    .attr("stroke", "#444").attr("stroke-width", 1.3).attr("stroke-dasharray", "2,2");
gB1.append("line").attr("x1", bl.r).attr("x2", bl.r).attr("y1", bl.t).attr("y2", bl.b)
    .attr("stroke", "#444").attr("stroke-width", 1).attr("stroke-dasharray", "5,3");
var bRows = [733.3, 746.6, 760.3, 773.6, 787.3, 800.3, 813.6];
b1Names.forEach(function(n, i) {
    gB1.append("line").attr("x1", 350).attr("x2", 365).attr("y1", bRows[i]).attr("y2", bRows[i])
        .attr("stroke", b1Cols[i]).attr("stroke-width", 3.2);
    addText(gB1, 371, bRows[i] + 4.5, n, 13, "start");
    addText(gB1, 442, bRows[i] + 4.5, ":", 13, "start");
    addText(gB1, 447, bRows[i] + 4.5, b1Auc[i], 13, "start");
});
gB1.append("line").attr("x1", 350).attr("x2", 365).attr("y1", bRows[6]).attr("y2", bRows[6])
    .attr("stroke", "#000").attr("stroke-width", 1.2).attr("stroke-dasharray", "4,3");
addText(gB1, 371, bRows[6] + 4.5, "Reference line", 13, "start");

// ======================= panel B: calibration =======================
(function() {
    var g = svg.append("g");
    var p = {l: 628.5, r: 869.2, t: 612.9, b: 824.2, bw: 1.8};
    var x = d3.scaleLinear().domain([0, 1]).range([637.6, 859.5]);
    var y = d3.scaleLinear().domain([0, 1]).range([815.9, 620.7]);
    g.append("line").attr("x1", p.l).attr("y1", p.b).attr("x2", p.r).attr("y2", p.t)
        .attr("stroke", "#dedede").attr("stroke-width", 3);
    g.append("line").attr("x1", p.l).attr("y1", p.b).attr("x2", p.r).attr("y2", p.t)
        .attr("stroke", "#888").attr("stroke-width", 1.3).attr("stroke-dasharray", "5,3.5");

    var groups = [
        {d: calYellow, c: "#F2E600", w: 1.6}, {d: calRed, c: "#FF1010", w: 1.6}, {d: calOrange, c: "#FFA000", w: 1.6},
        {d: calPurple, c: "#7D3E9A", w: 2.3}, {d: calBrown, c: "#A94A33", w: 2.0}, {d: calCyan, c: "#1CC7D6", w: 1.6}
    ];
    var line = d3.line().x(function(d) { return x(d[0]); }).y(function(d) { return y(d[1]); });
    groups.forEach(function(gr) {
        gr.d.forEach(function(d) {
            g.append("line").attr("x1", x(d[0])).attr("x2", x(d[0])).attr("y1", y(d[2])).attr("y2", y(d[3]))
                .attr("stroke", gr.c).attr("stroke-width", 1.6);
            [d[2], d[3]].forEach(function(v) {
                g.append("line").attr("x1", x(d[0]) - 2.5).attr("x2", x(d[0]) + 2.5).attr("y1", y(v)).attr("y2", y(v))
                    .attr("stroke", gr.c).attr("stroke-width", 1.8);
            });
        });
        g.append("path").datum(gr.d).attr("d", line).attr("fill", "none").attr("stroke", gr.c).attr("stroke-width", gr.w);
    });
    calKM.forEach(function(d) {
        var cx = x(d[0]), cy = y(d[1]);
        g.append("path").attr("d", "M" + (cx - 2.6) + "," + (cy - 2.6) + "L" + (cx + 2.6) + "," + (cy + 2.6) +
            "M" + (cx + 2.6) + "," + (cy - 2.6) + "L" + (cx - 2.6) + "," + (cy + 2.6))
            .attr("stroke", "#1E4AA8").attr("stroke-width", 1.8).attr("fill", "none");
    });
    groups.forEach(function(gr) {
        gr.d.forEach(function(d) {
            g.append("circle").attr("cx", x(d[0])).attr("cy", y(d[1])).attr("r", 3.5).attr("fill", gr.c);
            g.append("circle").attr("cx", x(d[0])).attr("cy", y(d[1])).attr("r", 1.1).attr("fill", "#1E4AA8");
        });
    });
    calRug.forEach(function(v) {
        g.append("line").attr("x1", x(v)).attr("x2", x(v)).attr("y1", 613).attr("y2", 619.5)
            .attr("stroke", "#000").attr("stroke-width", 0.9);
    });
    boxAxes(g, p, x, y);
    addText(g, 580, 717, "Actual Survival", 16, "middle", -90);
    addText(g, 748, 870, "Predicted Probability", 16, "middle");
    g.append("line").attr("x1", 766).attr("x2", 788).attr("y1", 813.4).attr("y2", 813.4)
        .attr("stroke", "#888").attr("stroke-width", 1.4).attr("stroke-dasharray", "5,3.6");
    addText(g, 798.5, 818, "Ideal line", 14.7, "start");
})();

// ======================= panel E =======================
var ePanels = [
    {l: 1319, r: 1558.4, t: 78.4, b: 289, x0: 1328.3, x1: 1550, y0: 281, y1: 86, diagCol: "#999",
     curves: [{data: e1Chemo, color: colChemo}, {data: e1NoChemo, color: colNoChemo}],
     leg: {l: 1388, r: 1558.4, t: 242, b: 289, rows: [256.4, 274.8], auc: eAuc[0]}},
    {l: 1321, r: 1560.5, t: 354.4, b: 565, x0: 1330, x1: 1552, y0: 557.3, y1: 365.3, diagCol: "#000",
     curves: [{data: e2Chemo, color: colChemo}, {data: e2NoChemo, color: colNoChemo}],
     leg: {l: 1389.6, r: 1560.5, t: 518, b: 565, rows: [532.6, 551.4], auc: eAuc[1]}},
    {l: 1320.5, r: 1560, t: 624.8, b: 836, x0: 1329, x1: 1552, y0: 827.7, y1: 633, diagCol: "#000",
     curves: [{data: e3Chemo, color: colChemo}, {data: e3NoChemo, color: colNoChemo}],
     leg: {l: 1389.6, r: 1560, t: 789, b: 836, rows: [803.6, 821.5], auc: eAuc[2]}, xlab: true, xlabY: 874}
];
ePanels.forEach(function(p) { p.bw = 2; p.lw = 2.8; p.ylabX = 1286; rocPanel(p); });
svg.append("line").attr("x1", 1532).attr("x2", 1532).attr("y1", 306).attr("y2", 313)
    .attr("stroke", "#000").attr("stroke-width", 1);

// ======================= panel C =======================
var yT3 = [-0.1, 0, 0.1, 0.2, 0.3];
var cPanels = [
    {title: "GSE87211", titleX: 178, titleY: 921, ox: 105.6, bot: 1090.8, top: 926.7, xend: 252.8,
     xd: [0.1, 0.4], xr: [125.7, 230.8], yd: [0, 0.1], yr: [1044.1, 935], xticks: [0.1, 0.2, 0.3, 0.4], xf: ".1f",
     yticks: [0, 0.05, 0.1], yf: ".2f", model: c1Model, all: c1All, none: c1None},
    {title: "GSE29621", titleX: 383, titleY: 921, ox: 307.3, bot: 1090.8, top: 926.9, xend: 455.5,
     xd: [0.25, 0.75], xr: [340.9, 429.5], yd: [0, 0.3], yr: [1042.1, 934.5], xticks: [0.25, 0.5, 0.75], xf: ".2f",
     yticks: yT3, yf: ".1f", model: c2Model, all: c2All, none: c2None},
    {title: "GSE159216", titleX: 588, titleY: 921, ox: 513, bot: 1092.8, top: 929, xend: 664.7,
     xd: [0.4, 0.7], xr: [544.6, 642.7], yd: [0, 0.3], yr: [1044.4, 936.9], xticks: [0.4, 0.5, 0.6, 0.7], xf: ".1f",
     yticks: yT3, yf: ".1f", model: c3Model, all: c3All, none: c3None},
    {title: "GSE72968", titleX: 792, titleY: 921, ox: 714.3, bot: 1092.2, top: 927, xend: 866.3,
     xd: [0.3, 0.6], xr: [725.8, 834.8], yd: [0, 0.3], yr: [1042.5, 933.6], xticks: [0.3, 0.4, 0.5, 0.6], xf: ".1f",
     yticks: yT3, yf: ".1f", model: c4Model, all: c4All, none: c4None},
    {title: "GSE72970", titleX: 996, titleY: 921, ox: 921.2, bot: 1092.2, top: 931.9, xend: 1073.5,
     xd: [0.4, 0.6], xr: [949.7, 1065.1], yd: [0, 0.2], yr: [1044.4, 939.4], xticks: [0.4, 0.45, 0.5, 0.55, 0.6], xf: ".2f",
     yticks: [0, 0.1, 0.2], yf: ".1f", model: c5Model, all: c5All, none: c5None},
    {title: "GSE39582", titleX: 1208, titleY: 919, ox: 1132.5, bot: 1094.9, top: 930.3, xend: 1278.3,
     xd: [0.25, 0.75], xr: [1169.5, 1253.4], yd: [0, 0.3], yr: [1046.1, 938.6], xticks: [0.25, 0.5, 0.75], xf: ".2f",
     yticks: yT3, yf: ".1f", model: c6Model, all: c6All, none: c6None}
];
cPanels.forEach(dcaPanel);
addText(svg, 53, 1007, "Net Benefit", 16, "middle", -90);

// legend of C
svg.append("line").attr("x1", 1373).attr("x2", 1408).attr("y1", 986).attr("y2", 986)
    .attr("stroke", colMipm).attr("stroke-width", 2.6);
addText(svg, 1419, 991.5, "MIPM", 16, "start");
svg.append("line").attr("x1", 1373).attr("x2", 1408).attr("y1", 1014).attr("y2", 1014)
    .attr("stroke", colAll).attr("stroke-width", 1.6).attr("stroke-dasharray", "5,4");
addText(svg, 1419, 1019.5, "Treat All", 16, "start");
svg.append("line").attr("x1", 1373).attr("x2", 1408).attr("y1", 1042.5).attr("y2", 1042.5)
    .attr("stroke", colNone).attr("stroke-width", 3.6).attr("stroke-dasharray", "13,7");
addText(svg, 1419, 1048, "Treat None", 16, "start");

</script>
</body>
</html>
